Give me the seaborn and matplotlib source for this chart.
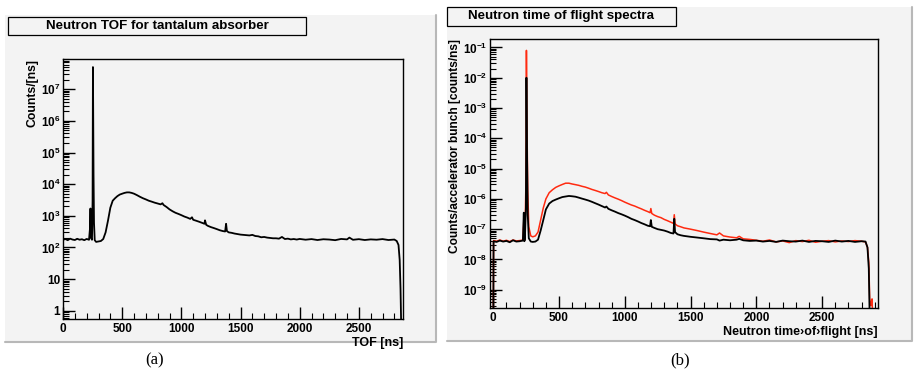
import numpy as np
import pandas as pd
import matplotlib
matplotlib.use("Agg")
from matplotlib import pyplot as plt
from matplotlib.patches import Rectangle
from matplotlib.lines import Line2D
from matplotlib.ticker import FixedLocator, MultipleLocator, LogLocator, FuncFormatter, NullFormatter
import seaborn as sns

# ---- panel (a): neutron TOF, tantalum absorber (counts per ns) ----
tof_a = [0, 20, 40, 60, 80, 100, 120, 140, 160, 180, 200, 220, 228, 232, 236, 245, 250, 253, 258, 262,
         268, 280, 300, 320, 340, 360, 380, 400, 420, 440, 460, 480, 500, 520, 540, 560, 580, 600,
         625, 650, 675, 700, 725, 750, 775, 800, 825, 840, 850, 875, 900, 925, 950, 975, 1000, 1025,
         1050, 1075, 1090, 1100, 1125, 1150, 1175, 1195, 1200, 1210, 1225, 1250, 1275, 1300, 1325,
         1350, 1370, 1378, 1385, 1400, 1425, 1450, 1475, 1500, 1525, 1550, 1575, 1600, 1625, 1650,
         1675, 1700, 1725, 1750, 1775, 1800, 1825, 1850, 1875, 1900, 1925, 1950, 1975, 2000, 2050,
         2100, 2150, 2200, 2250, 2300, 2350, 2400, 2420, 2450, 2500, 2550, 2600, 2650, 2700, 2750,
         2800, 2820, 2835, 2845, 2852, 2858]
counts_a = [175, 185, 170, 190, 178, 172, 188, 176, 182, 170, 186, 175, 400, 1700, 200, 175, 3000, 5e7,
            2e4, 600, 170, 150, 155, 160, 185, 300, 700, 1800, 3000, 3600, 4200, 4700, 5000, 5300,
            5500, 5500, 5300, 5000, 4500, 4000, 3600, 3300, 3000, 2800, 2600, 2450, 2300, 2500, 2200,
            1900, 1600, 1400, 1250, 1150, 1050, 950, 880, 800, 900, 750, 700, 650, 600, 560, 720, 520,
            480, 440, 410, 380, 350, 330, 320, 560, 330, 300, 290, 275, 265, 255, 250, 245, 240, 250,
            230, 225, 210, 215, 205, 200, 195, 195, 190, 215, 185, 190, 180, 185, 178, 186, 176, 184,
            172, 182, 178, 170, 186, 180, 205, 175, 183, 172, 180, 176, 184, 172, 178, 160, 120, 40,
            5, 0.3]

# ---- panel (b): neutron time of flight spectra (counts/ns per bunch, units of 1e-8) ----
tof_b = [0, 2, 25, 50, 75, 100, 125, 150, 175, 200, 225, 232, 236, 240, 248, 252, 256, 262, 270, 285,
         300, 320, 340, 360, 380, 400, 425, 450, 475, 500, 525, 550, 575, 600, 625, 650, 675, 700,
         725, 750, 775, 800, 825, 850, 860, 875, 900, 925, 950, 975, 1000, 1025, 1050, 1075, 1100,
         1125, 1150, 1175, 1192, 1198, 1205, 1225, 1250, 1275, 1300, 1325, 1350, 1370, 1376, 1382,
         1400, 1425, 1450, 1475, 1500, 1550, 1600, 1650, 1700, 1720, 1750, 1800, 1850, 1870, 1900,
         1950, 2000, 2050, 2100, 2150, 2200, 2250, 2300, 2350, 2400, 2450, 2500, 2550, 2600, 2650,
         2700, 2750, 2800, 2830, 2845, 2855, 2862, 2870, 2880, 2890]
black_b = [0.001, 4.0, 3.8, 4.2, 3.9, 4.1, 3.7, 4.3, 3.9, 4.0, 4.2, 35, 4.0, 4.5, 50, 1e6, 5000, 30, 5,
           3.9, 3.8, 3.9, 4.5, 9, 20, 45, 70, 85, 95, 105, 115, 120, 125, 122, 118, 110, 102, 95, 88,
           80, 72, 65, 58, 52, 56, 47, 42, 38, 34, 31, 28, 25, 22, 20, 18, 16, 14.5, 13, 12.5, 20, 12,
           11, 10, 9.5, 9, 8.3, 7.5, 7.2, 22, 8, 6.8, 6.3, 6, 5.8, 5.6, 5.3, 5.0, 4.7, 4.6, 4.2, 4.5,
           4.3, 4.5, 4.8, 4.3, 4.1, 4.2, 3.9, 4.1, 3.8, 4.2, 4.0, 3.9, 4.2, 3.8, 4.1, 4.0, 3.8, 4.2,
           3.9, 4.1, 3.8, 4.0, 3.9, 2.5, 0.5, 0.01, 0.001, 0.001, 0.001]
red_b = [0.001, 4.2, 4.0, 4.4, 4.0, 4.3, 3.9, 4.4, 4.1, 4.2, 4.4, 20, 4.2, 4.6, 300, 8e6, 3e4, 200, 12,
         6, 5.6, 6, 8, 20, 50, 100, 160, 200, 240, 270, 300, 330, 330, 310, 295, 280, 260, 245, 225,
         205, 190, 175, 160, 150, 165, 135, 120, 108, 98, 88, 78, 70, 63, 58, 52, 47, 42, 38, 35, 48,
         33, 29, 26, 24, 21, 19, 17, 15.5, 30, 15, 13, 12, 11, 10.5, 10, 9, 8, 7.2, 6.5, 7.5, 6, 5.5,
         5.2, 5.8, 4.8, 4.6, 4.3, 4.0, 4.4, 3.8, 4.1, 3.6, 4.2, 3.9, 4.3, 3.7, 4.0, 4.2, 3.8, 4.1,
         3.9, 4.2, 4.0, 3.8, 2.5, 0.8, 0.05, 0.03, 0.05, 0.001]

sns.set_style("ticks")
plt.rcParams["font.family"] = ["Liberation Sans", "DejaVu Sans"]
plt.rcParams["mathtext.fontset"] = "custom"
plt.rcParams["mathtext.bf"] = "Liberation Sans:bold"
plt.rcParams["mathtext.rm"] = "Liberation Sans:bold"
for key in ("text.color", "axes.labelcolor", "xtick.color", "ytick.color"):
    plt.rcParams[key] = "black"

W, H = 915, 377
fig = plt.figure(figsize=(W / 100, H / 100), dpi=100)
panel_bg = "#f3f3f3"


def px_rect(x0, y0, x1, y1, z=-5, **kw):
    r = Rectangle((x0 / W, 1 - y1 / H), (x1 - x0) / W, (y1 - y0) / H, transform=fig.transFigure,
                  zorder=z, **kw)
    fig.add_artist(r)


def px_line(xs, ys, **kw):
    fig.add_artist(Line2D([x / W for x in xs], [1 - y / H for y in ys], transform=fig.transFigure,
                          zorder=-4, **kw))


# gray canvases with the light shadow edge
px_rect(5, 15, 436, 342, facecolor=panel_bg, edgecolor="none")
px_line([5, 436, 436], [342, 342, 15], color="#b8b8b8", lw=1.5)
px_rect(447, 7, 912, 341, facecolor=panel_bg, edgecolor="none")
px_line([447, 912, 912], [341, 341, 7], color="#b8b8b8", lw=1.5)

# title boxes
px_rect(8, 17, 306, 35, z=2, facecolor=panel_bg, edgecolor="black", lw=0.9)
fig.text(157 / W, 1 - 26 / H, "Neutron TOF for tantalum absorber", ha="center", va="center",
         fontsize=9.6, fontweight="bold", zorder=3)
px_rect(447, 7, 676, 26, z=2, facecolor=panel_bg, edgecolor="black", lw=0.9)
fig.text(561 / W, 1 - 16.5 / H, "Neutron time of flight spectra", ha="center", va="center",
         fontsize=9.6, fontweight="bold", zorder=3)

ax_a = fig.add_axes([63 / W, 1 - 319 / H, 340 / W, 260 / H])
ax_b = fig.add_axes([490 / W, 1 - 308 / H, 388 / W, 269 / H])

sns.lineplot(x=tof_a, y=counts_a, ax=ax_a, color="black", lw=1.3, estimator=None, sort=False)
red_vals = np.array(red_b) * 1e-8
black_vals = np.array(black_b) * 1e-8
sns.lineplot(x=tof_b, y=red_vals, ax=ax_b, color="#ff2a10", lw=1.1, estimator=None, sort=False)
sns.lineplot(x=tof_b, y=black_vals, ax=ax_b, color="black", lw=1.3, estimator=None, sort=False)


def pow_label(v, pos):
    e = int(round(np.log10(v)))
    if e == 0:
        return "1"
    if e == 1:
        return "10"
    return r"$\mathbf{10^{%d}}$" % e


for ax in (ax_a, ax_b):
    ax.set_facecolor(panel_bg)
    ax.set_yscale("log")
    for s in ax.spines.values():
        s.set_color("black")
        s.set_linewidth(1.0)
    ax.xaxis.set_major_locator(MultipleLocator(500))
    ax.xaxis.set_minor_locator(MultipleLocator(100))
    ax.yaxis.set_minor_locator(LogLocator(base=10, subs=np.arange(2, 10), numticks=30))
    ax.yaxis.set_minor_formatter(NullFormatter())
    ax.tick_params(axis="both", which="major", direction="in", length=8.5, width=1.0,
                   labelsize=8.5, top=False, right=False)
    ax.tick_params(axis="both", which="minor", direction="in", length=4.5, width=0.8,
                   top=False, right=False)
    ax.tick_params(axis="x", pad=3)
    ax.tick_params(axis="y", pad=2)

ax_a.set_xlim(0, 2873)
ax_a.set_ylim(0.55, 9e7)
ax_a.yaxis.set_major_locator(FixedLocator([10.0 ** e for e in range(0, 8)]))
ax_a.yaxis.set_major_formatter(FuncFormatter(pow_label))

ax_b.set_xlim(-25, 2925)
ax_b.set_ylim(2.5e-10, 0.19)
ax_b.yaxis.set_major_locator(FixedLocator([10.0 ** e for e in range(-9, 0)]))
ax_b.yaxis.set_major_formatter(FuncFormatter(pow_label))

for ax in (ax_a, ax_b):
    for lab in ax.get_xticklabels() + ax.get_yticklabels():
        lab.set_fontweight("bold")

ax_a.set_ylabel("Counts/[ns]", loc="top", fontsize=8.8, fontweight="bold")
ax_a.yaxis.set_label_coords(-0.072, 1.0)
ax_a.set_xlabel("TOF [ns]", loc="right", fontsize=9, fontweight="bold", labelpad=1)
ax_b.set_ylabel("Counts/accelerator bunch [counts/ns]", loc="top", fontsize=8.6, fontweight="bold")
ax_b.yaxis.set_label_coords(-0.074, 1.0)
ax_b.set_xlabel("Neutron time\u203aof\u203aflight [ns]", loc="right", fontsize=9, fontweight="bold", labelpad=1)

# captions
fig.text(155 / W, 1 - 360 / H, "(a)", ha="center", va="center", fontsize=12, family="Liberation Serif")
fig.text(680 / W, 1 - 360 / H, "(b)", ha="center", va="center", fontsize=12, family="Liberation Serif")

fig.savefig("out.png", dpi=100)
